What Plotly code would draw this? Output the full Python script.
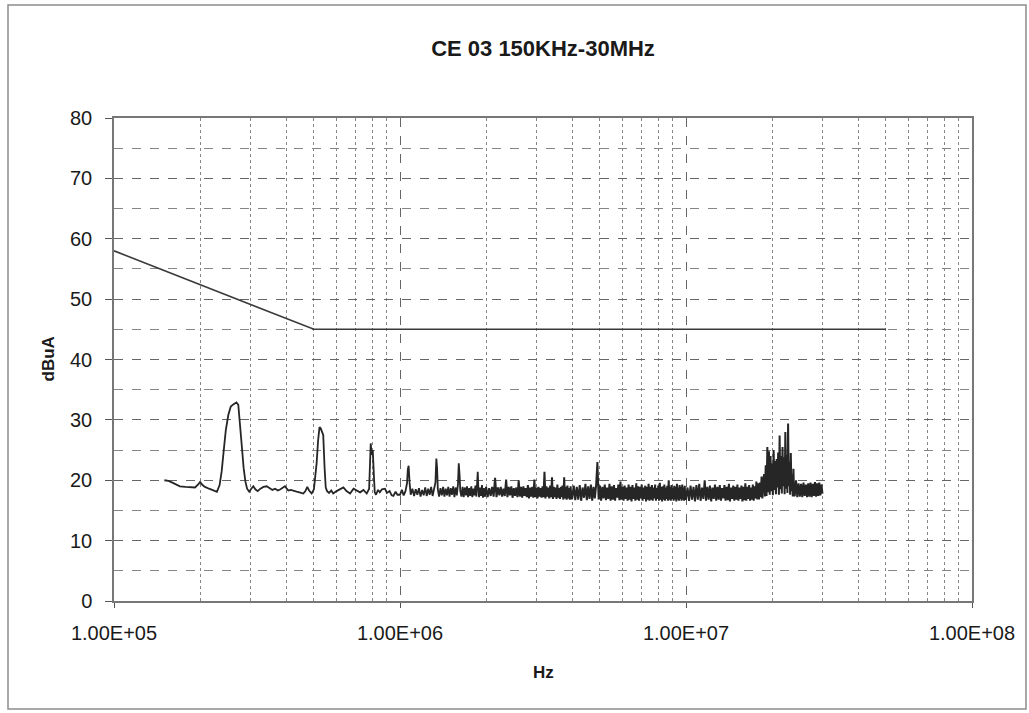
import plotly.graph_objects as go

# ---- measured emission: 150 kHz - 2 MHz (kHz, dBuA) ----
seg_a_khz = [150, 155, 160, 165, 170, 178, 185, 192, 197, 200, 204, 208, 215, 222, 229,
             234, 238, 242, 246, 251, 256, 262, 268, 272, 276, 280, 284, 288, 292, 297,
             302, 307, 312, 318, 325, 333, 342, 350, 358, 366, 374, 382, 390, 396, 402,
             407, 415, 425, 435, 445, 459, 467, 474, 481, 491, 500, 506, 511, 517, 523,
             528, 534, 539, 545, 550, 556, 565, 575, 584, 600, 615, 634, 650, 669, 688,
             706, 725, 745, 765, 780, 786, 790, 796, 803, 810, 816, 824, 838, 850, 865,
             886, 900, 920, 935, 948, 965, 980, 1000,
             1015, 1030, 1045, 1058, 1065, 1072, 1080, 1090, 1105, 1120, 1135, 1150, 1165,
             1180, 1195, 1210, 1225, 1240, 1255, 1270, 1285, 1300, 1315, 1330, 1340, 1348,
             1356, 1370, 1385, 1400, 1415, 1430, 1445, 1460, 1475, 1490, 1505, 1520, 1535,
             1550, 1565, 1580, 1595, 1605, 1615, 1625, 1640, 1655, 1670, 1685, 1700, 1715,
             1730, 1745, 1760, 1775, 1790, 1805, 1820, 1835, 1850, 1862, 1870, 1878, 1890,
             1905, 1920, 1935, 1950, 1965, 1980]
seg_a_db = [20.0, 19.9, 19.6, 19.3, 19.0, 18.9, 18.8, 18.8, 19.3, 19.7, 19.2, 18.9, 18.6, 18.4, 18.1,
            19.2, 21.5, 25.0, 28.3, 30.8, 32.2, 32.6, 32.9, 32.5, 29.4, 25.5, 22.0, 19.8, 18.6, 18.1,
            18.6, 19.0, 18.5, 18.2, 18.6, 18.9, 19.0, 18.7, 18.4, 18.6, 18.3, 18.5, 18.8, 19.0, 18.6,
            18.3, 18.4, 18.2, 18.1, 18.0, 17.8, 18.2, 18.9, 18.3, 17.8, 18.5, 20.5, 22.8, 26.5, 28.8,
            28.6, 28.1, 27.5, 22.0, 18.8, 18.2, 17.9, 18.3, 17.8, 18.2, 18.5, 18.8, 18.2, 17.8, 18.6,
            18.3, 18.0, 18.4, 17.8, 18.6, 22.0, 26.1, 24.2, 25.0, 21.0, 18.0, 17.6, 18.4, 18.0, 18.5,
            18.6, 17.9, 18.2, 17.5, 17.4, 18.1, 17.6, 17.6,
            18.4, 17.5, 18.2, 19.5, 21.8, 22.4, 19.6, 17.6, 18.6, 17.4, 18.5, 17.6, 18.7,
            17.3, 18.4, 17.5, 18.8, 17.4, 18.6, 17.6, 18.9, 17.4, 18.5, 19.6, 23.6, 22.0,
            18.5, 17.3, 18.7, 17.5, 18.9, 17.3, 18.6, 17.5, 18.9, 17.3, 18.7, 17.6, 19.0,
            17.2, 18.8, 17.5, 19.4, 22.8, 21.0, 18.2, 17.3, 18.9, 17.2, 18.8, 17.5, 19.0,
            17.2, 18.7, 17.4, 19.0, 17.2, 18.6, 17.5, 19.1, 17.3, 20.0, 21.4, 19.0, 17.2,
            18.8, 17.4, 19.2, 17.1, 18.7, 17.3]

# ---- 2 - 4 MHz (MHz, dBuA) ----
seg_b_mhz = [2.000, 2.025, 2.050, 2.075, 2.100, 2.125, 2.150, 2.175, 2.200, 2.225,
             2.250, 2.275, 2.300, 2.325, 2.350, 2.375, 2.400, 2.425, 2.450, 2.475,
             2.500, 2.525, 2.550, 2.575, 2.600, 2.625, 2.650, 2.675, 2.700, 2.725,
             2.750, 2.775, 2.800, 2.825, 2.850, 2.875, 2.900, 2.925, 2.950, 2.975,
             3.000, 3.025, 3.050, 3.075, 3.100, 3.125, 3.150, 3.175, 3.200, 3.225,
             3.250, 3.275, 3.300, 3.325, 3.350, 3.375, 3.400, 3.425, 3.450, 3.475,
             3.500, 3.525, 3.550, 3.575, 3.600, 3.625, 3.650, 3.675, 3.700, 3.725,
             3.750, 3.775, 3.800, 3.825, 3.850, 3.875, 3.900, 3.925, 3.950, 3.975]
seg_b_db = [18.9, 17.2, 18.7, 17.4, 18.9, 17.3, 20.4, 17.2, 18.8, 17.5,
            18.9, 17.3, 18.6, 17.4, 20.1, 17.2, 18.9, 17.5, 19.0, 17.1,
            18.7, 17.4, 18.8, 17.2, 20.0, 17.3, 18.9, 17.1, 19.0, 17.4,
            18.7, 17.2, 19.2, 17.0, 18.8, 17.3, 18.9, 17.1, 20.1, 17.2,
            18.8, 17.0, 18.9, 17.3, 18.7, 17.1, 19.0, 17.2, 21.4, 17.0,
            19.0, 17.3, 18.8, 17.0, 19.1, 17.2, 20.5, 16.9, 18.9, 17.2,
            18.8, 16.9, 19.3, 17.1, 18.7, 16.9, 18.9, 17.2, 19.1, 16.8,
            20.5, 17.0, 18.9, 16.8, 19.1, 17.0, 18.7, 16.8, 19.0, 16.9]

# ---- 4 - 10 MHz ----
seg_c_mhz = [4.00, 4.05, 4.10, 4.15, 4.20, 4.25, 4.30, 4.35, 4.40, 4.45,
             4.50, 4.55, 4.60, 4.65, 4.70, 4.75, 4.80, 4.85, 4.90, 4.95,
             5.00, 5.05, 5.10, 5.15, 5.20, 5.25, 5.30, 5.35, 5.40, 5.45,
             5.50, 5.55, 5.60, 5.65, 5.70, 5.75, 5.80, 5.85, 5.90, 5.95,
             6.00, 6.05, 6.10, 6.15, 6.20, 6.25, 6.30, 6.35, 6.40, 6.45,
             6.50, 6.55, 6.60, 6.65, 6.70, 6.75, 6.80, 6.85, 6.90, 6.95,
             7.00, 7.05, 7.10, 7.15, 7.20, 7.25, 7.30, 7.35, 7.40, 7.45,
             7.50, 7.55, 7.60, 7.65, 7.70, 7.75, 7.80, 7.85, 7.90, 7.95,
             8.00, 8.05, 8.10, 8.15, 8.20, 8.25, 8.30, 8.35, 8.40, 8.45,
             8.50, 8.55, 8.60, 8.65, 8.70, 8.75, 8.80, 8.85, 8.90, 8.95,
             9.00, 9.05, 9.10, 9.15, 9.20, 9.25, 9.30, 9.35, 9.40, 9.45,
             9.50, 9.55, 9.60, 9.65, 9.70, 9.75, 9.80, 9.85, 9.90, 9.95]
seg_c_db = [17.0, 19.1, 16.7, 18.9, 16.8, 19.2, 16.6, 18.8, 17.1, 19.4,
            16.7, 19.0, 16.9, 19.3, 16.6, 18.9, 17.0, 19.2, 23.0, 16.8,
            19.1, 16.6, 18.9, 17.0, 19.3, 16.7, 18.8, 16.9, 19.4, 16.6,
            19.0, 16.8, 19.2, 16.6, 18.7, 17.1, 19.3, 16.7, 19.8, 16.8,
            18.9, 16.6, 19.1, 16.9, 18.8, 16.6, 19.3, 16.8, 18.9, 16.5,
            19.2, 16.9, 18.8, 16.6, 19.5, 16.8, 19.0, 16.6, 18.9, 17.0,
            19.3, 16.6, 18.8, 16.9, 19.1, 16.5, 18.9, 16.8, 19.4, 16.6,
            18.9, 16.8, 19.2, 16.6, 18.8, 17.0, 19.3, 16.6, 18.7, 16.9,
            19.1, 16.6, 19.6, 16.8, 18.9, 16.5, 19.0, 16.8, 19.3, 16.6,
            18.8, 16.9, 19.1, 16.6, 20.0, 16.8, 18.9, 16.6, 19.2, 16.9,
            18.8, 16.6, 19.1, 16.8, 18.9, 16.5, 19.4, 16.8, 18.8, 16.6,
            19.2, 16.9, 18.9, 16.6, 19.3, 16.8, 18.8, 16.6, 19.1, 16.9]

# ---- 10 - 18 MHz ----
seg_d_mhz = [10.000, 10.125, 10.250, 10.375, 10.500, 10.625, 10.750, 10.875,
             11.000, 11.125, 11.250, 11.375, 11.500, 11.625, 11.750, 11.875,
             12.000, 12.125, 12.250, 12.375, 12.500, 12.625, 12.750, 12.875,
             13.000, 13.125, 13.250, 13.375, 13.500, 13.625, 13.750, 13.875,
             14.000, 14.125, 14.250, 14.375, 14.500, 14.625, 14.750, 14.875,
             15.000, 15.125, 15.250, 15.375, 15.500, 15.625, 15.750, 15.875,
             16.000, 16.125, 16.250, 16.375, 16.500, 16.625, 16.750, 16.875,
             17.000, 17.125, 17.250, 17.375, 17.500, 17.625, 17.750, 17.875]
seg_d_db = [16.9, 18.8, 16.6, 19.1, 16.8, 18.9, 16.5, 19.2,
            16.8, 19.4, 16.6, 18.8, 16.9, 20.0, 16.6, 18.9,
            16.8, 19.1, 16.5, 18.8, 16.9, 19.3, 16.6, 18.9,
            16.8, 19.2, 16.6, 18.7, 17.0, 19.2, 16.6, 18.9,
            16.7, 19.4, 16.5, 18.8, 16.9, 19.1, 16.6, 18.9,
            16.8, 19.3, 16.6, 18.8, 16.9, 19.1, 16.5, 18.9,
            16.7, 19.5, 16.6, 18.9, 16.9, 19.2, 16.6, 18.8,
            16.8, 19.3, 16.6, 19.0, 17.0, 19.8, 16.8, 19.5]

# ---- 18 - 24 MHz (burst) ----
seg_e_mhz = [18.000, 18.125, 18.250, 18.375, 18.500, 18.625, 18.750, 18.875,
             19.000, 19.125, 19.250, 19.375, 19.500, 19.625, 19.750, 19.875,
             20.000, 20.125, 20.250, 20.375, 20.500, 20.625, 20.750, 20.875,
             21.000, 21.125, 21.250, 21.375, 21.500, 21.625, 21.750, 21.875,
             22.000, 22.125, 22.250, 22.375, 22.500, 22.625, 22.750, 22.875,
             23.000, 23.125, 23.250, 23.375, 23.500, 23.625, 23.750, 23.875]
seg_e_db = [16.8, 19.6, 17.2, 20.6, 17.0, 19.8, 21.0, 17.3,
            22.5, 17.4, 25.5, 18.0, 24.8, 17.6, 24.0, 18.2,
            22.8, 17.5, 25.0, 18.4, 23.2, 17.7, 23.5, 18.8,
            24.6, 17.6, 27.4, 18.5, 24.0, 17.8, 25.5, 19.0,
            23.8, 17.7, 28.0, 18.6, 24.2, 17.9, 29.4, 19.0,
            23.0, 17.6, 24.5, 18.2, 21.0, 17.3, 21.9, 17.5]

# ---- 24 - 30 MHz ----
seg_f_mhz = [24.00, 24.25, 24.50, 24.75, 25.00, 25.25, 25.50, 25.75, 26.00, 26.25,
             26.50, 26.75, 27.00, 27.25, 27.50, 27.75, 28.00, 28.25, 28.50, 28.75,
             29.00, 29.25, 29.50, 29.75, 30.00]
seg_f_db = [17.4, 20.0, 17.2, 19.5, 17.3, 19.4, 17.2, 19.6, 17.4, 19.3,
            17.2, 19.5, 17.3, 19.6, 17.2, 19.4, 17.4, 19.7, 17.3, 19.5,
            17.4, 19.6, 17.5, 19.3, 17.8]

# ---- CE03 limit line ----
limit_hz = [1e5, 5e5, 5e7]
limit_db = [58, 45, 45]

# axis tick labels
x_tickvals = [1e5, 1e6, 1e7, 1e8]
x_ticktext = ["1.00E+05", "1.00E+06", "1.00E+07", "1.00E+08"]
x_minor = [m * 10 ** e for e in (5, 6, 7) for m in range(2, 10)]

low_hz = [f * 1e3 for f in seg_a_khz]
low_db = list(seg_a_db)
dense_hz = [low_hz[-1]] + [f * 1e6 for f in seg_b_mhz + seg_c_mhz + seg_d_mhz + seg_e_mhz + seg_f_mhz]
dense_db = [low_db[-1]] + seg_b_db + seg_c_db + seg_d_db + seg_e_db + seg_f_db

FONT = "Liberation Sans, Arial, sans-serif"
GRID = "#666666"
LINE = "#262626"

fig = go.Figure()
fig.add_trace(go.Scatter(x=limit_hz, y=limit_db, mode="lines",
                         line=dict(color="#3a3a3a", width=1.6), showlegend=False))
fig.add_trace(go.Scatter(x=low_hz, y=low_db, mode="lines",
                         line=dict(color=LINE, width=1.8), showlegend=False))
fig.add_trace(go.Scatter(x=dense_hz, y=dense_db, mode="lines",
                         line=dict(color=LINE, width=2.0), showlegend=False))

fig.update_layout(
    width=1029, height=713,
    margin=dict(l=114, r=57, t=118, b=112),
    paper_bgcolor="white", plot_bgcolor="white",
    font=dict(family=FONT, color="#1a1a1a"),
    title=dict(text="<b>CE 03 150KHz-30MHz</b>", font=dict(size=22, family=FONT, color="#1a1a1a"),
               x=0.5, xref="paper", xanchor="center", y=1 - 48 / 713, yref="container",
               yanchor="middle"),
    xaxis=dict(type="log", range=[5, 8], tickvals=x_tickvals, ticktext=x_ticktext,
               tickfont=dict(size=20), ticks="outside", ticklen=5, tickcolor="#555",
               ticklabelstandoff=8,
               showline=True, linecolor="#777", linewidth=1.5, mirror=True,
               showgrid=True, gridcolor=GRID, griddash="dash", gridwidth=1,
               minor=dict(tickvals=x_minor, showgrid=True, gridcolor="#858585",
                          griddash="dot", gridwidth=1, ticks=""),
               zeroline=False),
    yaxis=dict(range=[0, 80], dtick=10, tickfont=dict(size=20), ticks="outside",
               ticklen=7, tickcolor="#555", ticklabelstandoff=9,
               showline=True, linecolor="#777", linewidth=1.5, mirror=True,
               showgrid=True, gridcolor=GRID, griddash="dash", gridwidth=1,
               minor=dict(dtick=5, showgrid=True, gridcolor="#858585", griddash="dash",
                          gridwidth=1, ticks=""),
               zeroline=False),
    annotations=[
        dict(text="<b>Hz</b>", xref="paper", yref="paper", x=0.5, y=(601 - 672) / 483,
             showarrow=False, font=dict(size=17, family=FONT), xanchor="center", yanchor="middle"),
        dict(text="<b>dBuA</b>", xref="paper", yref="paper", x=(48 - 114) / 858, y=0.5,
             showarrow=False, textangle=-90, font=dict(size=17, family=FONT),
             xanchor="center", yanchor="middle"),
    ],
    shapes=[dict(type="rect", xref="paper", yref="paper",
                 x0=(8 - 114) / 858, x1=(1026 - 114) / 858,
                 y0=(601 - 709) / 483, y1=(601 - 5) / 483,
                 line=dict(color="#8c8c8c", width=1.5), fillcolor="rgba(0,0,0,0)")],
)

fig.write_html("out.html")
